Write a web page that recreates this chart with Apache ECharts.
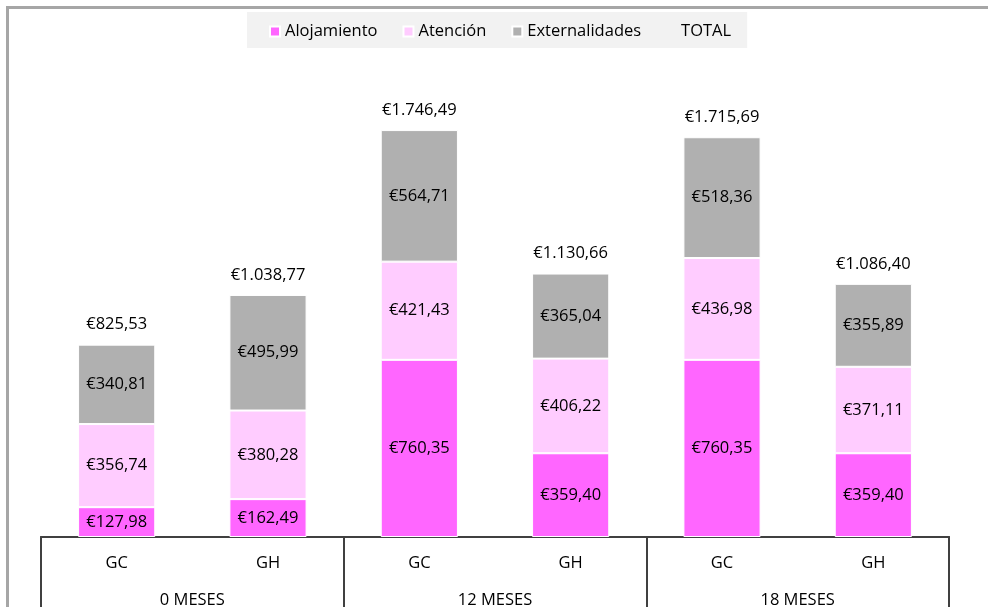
<!DOCTYPE html>
<html>
<head>
<meta charset="utf-8">
<script src="https://cdn.jsdelivr.net/npm/echarts@6/dist/echarts.min.js"></script>
<style>
  html, body { margin: 0; padding: 0; background: #fff; }
  #chart { width: 988px; height: 607px; }
</style>
</head>
<body>
<div id="chart"></div>
<script>
var grupos = ['GC', 'GH', 'GC', 'GH', 'GC', 'GH'];
var periodos = ['0 MESES', '12 MESES', '18 MESES'];
var alojamiento = [127.98, 162.49, 760.35, 359.40, 760.35, 359.40];
var atencion = [356.74, 380.28, 421.43, 406.22, 436.98, 371.11];
var externalidades = [340.81, 495.99, 564.71, 365.04, 518.36, 355.89];
var total = [825.53, 1038.77, 1746.49, 1130.66, 1715.69, 1086.40];

var fuente = 'Open Sans';
var tam = 16.5;

function euro(v) {
  var p = v.toFixed(2).split('.');
  var ent = p[0].replace(/\B(?=(\d{3})+(?!\d))/g, '.');
  return '€' + ent + ',' + p[1];
}

var myChart = echarts.init(document.getElementById('chart'));

var etiqueta = {
  show: true,
  position: 'inside',
  color: '#000',
  fontFamily: fuente,
  fontSize: tam,
  formatter: function (p) { return euro(p.value); }
};

function barra(nombre, datos, color) {
  return {
    name: nombre,
    type: 'bar',
    stack: 'coste',
    barWidth: '51%',
    data: datos,
    itemStyle: { color: color, borderColor: '#fff', borderWidth: 1 },
    label: etiqueta
  };
}

var option = {
  animation: false,
  textStyle: { fontFamily: fuente },
  legend: {
    top: 12,
    left: 247,
    backgroundColor: '#f2f2f2',
    padding: [11, 16, 8, 22],
    itemGap: 25,
    itemWidth: 10,
    itemHeight: 10,
    icon: 'rect',
    textStyle: { fontSize: tam, color: '#000', fontFamily: fuente },
    data: [
      'Alojamiento', 'Atención', 'Externalidades',
      { name: 'TOTAL', itemStyle: { color: 'rgba(0,0,0,0)' } }
    ]
  },
  grid: { left: 41, right: 39, top: 71, bottom: 70, containLabel: false, outerBoundsMode: 'none' },
  xAxis: [{
    type: 'category',
    data: grupos,
    axisLine: { show: true, lineStyle: { color: '#404040', width: 2 } },
    axisTick: { show: false },
    axisLabel: { color: '#000', fontSize: tam, margin: 18, fontFamily: fuente }
  }, {
    type: 'category',
    position: 'bottom',
    data: periodos,
    axisLine: { show: true, lineStyle: { color: '#404040', width: 2 } },
    axisTick: { show: true, length: 75, lineStyle: { color: '#404040', width: 2 } },
    axisLabel: { color: '#000', fontSize: tam, margin: 55, fontFamily: fuente }
  }],
  yAxis: {
    type: 'value',
    min: 0,
    max: 2000,
    show: false,
    splitLine: { show: false }
  },
  series: [
    barra('Alojamiento', alojamiento, '#ff66ff'),
    barra('Atención', atencion, '#ffccff'),
    barra('Externalidades', externalidades, '#b0b0b0'),
    {
      name: 'TOTAL',
      type: 'line',
      data: total,
      symbol: 'circle',
      symbolSize: 1,
      showSymbol: true,
      lineStyle: { opacity: 0 },
      itemStyle: { color: 'rgba(0,0,0,0)' },
      label: {
        show: true,
        position: 'top',
        distance: 11,
        color: '#000',
        fontFamily: fuente,
        fontSize: tam,
        formatter: function (p) { return euro(p.value); }
      }
    }
  ],
  graphic: [{
    type: 'polyline',
    shape: { points: [[7.5, 607], [7.5, 7.5], [988, 7.5]] },
    style: { stroke: '#a6a6a6', lineWidth: 3, fill: null }
  }]
};

myChart.setOption(option);
</script>
</body>
</html>
